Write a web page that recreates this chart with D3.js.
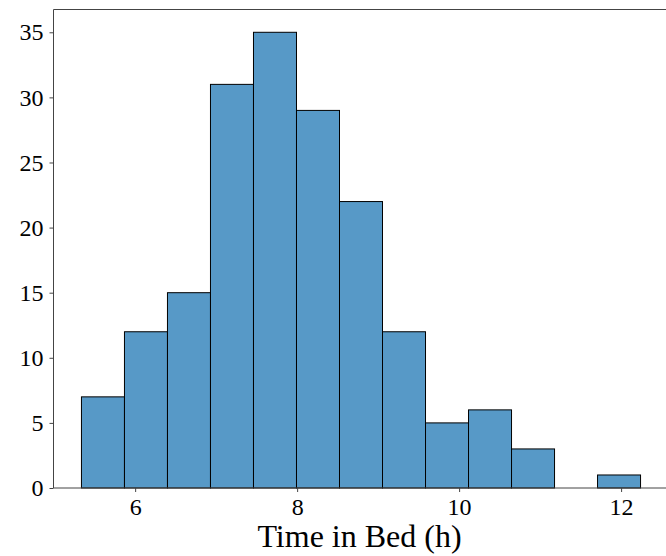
<!DOCTYPE html>
<html>
<head>
<meta charset="utf-8">
<script src="https://cdn.jsdelivr.net/npm/d3@7"></script>
<style>
  html, body { margin: 0; padding: 0; background: #fff; }
  svg { display: block; }
  text { font-family: "Liberation Serif", "Times New Roman", serif; fill: #000; }
</style>
</head>
<body>
<svg id="chart" width="666" height="556"></svg>
<script>
// Data
const binStart = 5.337;
const binWidth = 0.531;
const counts = [7, 12, 15, 31, 35, 29, 22, 12, 5, 6, 3, 0, 1];
const xTicks = [6, 8, 10, 12];
const yTicks = [0, 5, 10, 15, 20, 25, 30, 35];
const xLabel = "Time in Bed (h)";

const bins = counts.map((c, i) => ({ x0: binStart + i * binWidth, x1: binStart + (i + 1) * binWidth, count: c }));

const svg = d3.select("#chart");
const m = { left: 53.5, top: 9.5, bottom: 488 };
const xMin = bins[0].x0, xMax = bins[bins.length - 1].x1;
const pad = (xMax - xMin) * 0.05;
const x = d3.scaleLinear().domain([xMin - pad, xMax + pad]).range([53.5, 668.5]);
const y = d3.scaleLinear().domain([0, 35 * 1.05]).range([488, 9.5]);

// bars
svg.append("g").selectAll("rect").data(bins.filter(d => d.count > 0)).join("rect")
  .attr("x", d => x(d.x0))
  .attr("y", d => y(d.count))
  .attr("width", d => x(d.x1) - x(d.x0))
  .attr("height", d => y(0) - y(d.count))
  .attr("fill", "#5799c7")
  .attr("stroke", "#000")
  .attr("stroke-width", 1);

// spines
const sp = svg.append("g").attr("stroke", "#444").attr("stroke-width", 1).attr("fill", "none");
sp.append("line").attr("x1", 53.5).attr("x2", 53.5).attr("y1", 9.5).attr("y2", 488);
sp.append("line").attr("x1", 53.5).attr("x2", 668.5).attr("y1", 9.5).attr("y2", 9.5);
sp.append("line").attr("x1", 53.5).attr("x2", 668.5).attr("y1", 488).attr("y2", 488);
sp.append("line").attr("x1", 668.5).attr("x2", 668.5).attr("y1", 9.5).attr("y2", 488);

// x axis
const xAxis = d3.axisBottom(x).tickValues(xTicks).tickSize(4).tickPadding(6).tickFormat(d3.format("d"));
const gx = svg.append("g").attr("transform", "translate(0,488)").call(xAxis);
gx.select(".domain").remove();
gx.selectAll(".tick line").attr("stroke", "#444");
gx.selectAll(".tick text").attr("font-size", 24).attr("font-family", "Liberation Serif, serif").attr("fill", "#000");

// y axis
const yAxis = d3.axisLeft(y).tickValues(yTicks).tickSize(4).tickPadding(6).tickFormat(d3.format("d"));
const gy = svg.append("g").attr("transform", "translate(53.5,0)").call(yAxis);
gy.select(".domain").remove();
gy.selectAll(".tick line").attr("stroke", "#444");
gy.selectAll(".tick text").attr("font-size", 24).attr("font-family", "Liberation Serif, serif").attr("fill", "#000");

// x label
svg.append("text").attr("x", 359.5).attr("y", 547).attr("text-anchor", "middle")
  .attr("font-size", 32).text(xLabel);
</script>
</body>
</html>
